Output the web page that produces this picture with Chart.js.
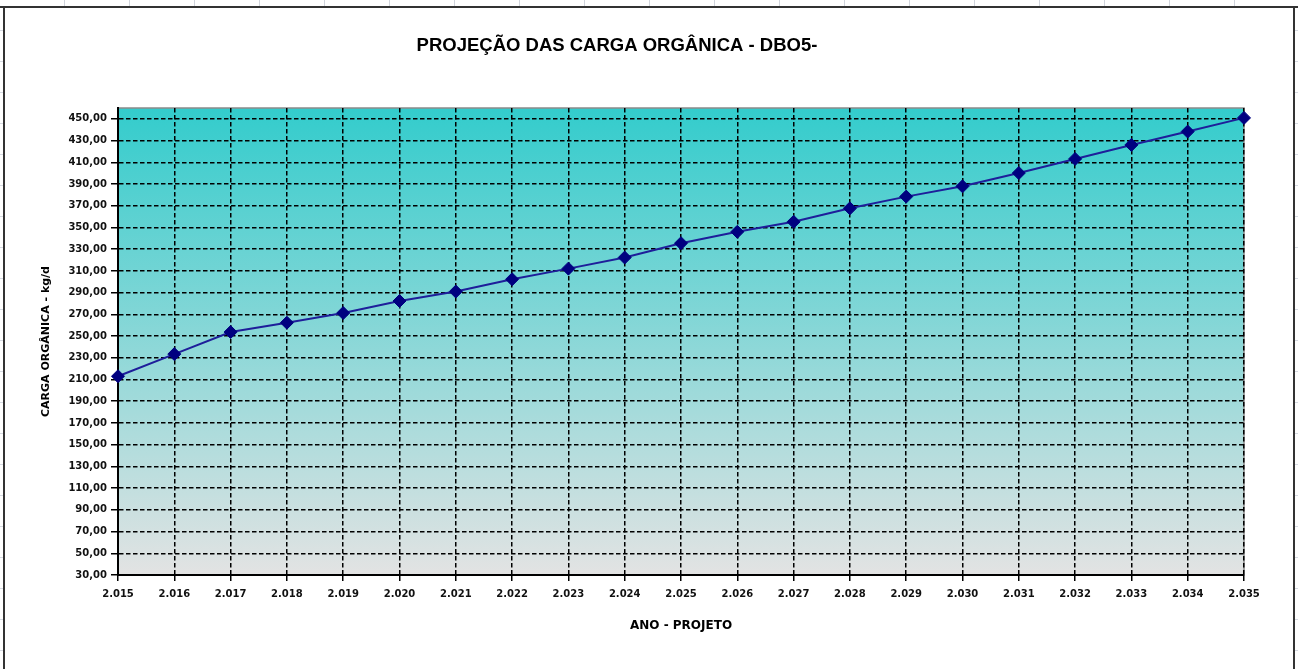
<!DOCTYPE html>
<html lang="pt">
<head>
<meta charset="utf-8">
<title>Projeção das Carga Orgânica - DBO5</title>
<script src="https://cdn.jsdelivr.net/npm/chart.js@4.4.1/dist/chart.umd.min.js"></script>
<style>
  html, body { margin: 0; padding: 0; }
  body {
    width: 1298px; height: 669px; overflow: hidden; position: relative; background: #fff;
    background-image: repeating-linear-gradient(to bottom, transparent 0 30px, #d6dae2 30px 31px);
  }
  #topbar {
    position: absolute; left: 0; top: 0; width: 1298px; height: 6px;
    background: repeating-linear-gradient(to right, #fff 0 64px, #d0d4dc 64px 65px);
    border-bottom: 2px solid #333;
  }
  #frame {
    position: absolute; left: 3px; top: 8px; width: 1292px; height: 670px;
    border-left: 2px solid #333; border-right: 2px solid #333;
    box-sizing: border-box; background: #fff;
  }
  #wrap { position: absolute; left: -10px; top: 0; width: 1304px; height: 669px; }
</style>
</head>
<body>
<div id="topbar"></div>
<div id="frame"></div>
<div id="wrap"><canvas id="cargaChart"></canvas></div>
<script>
// dados
const anos = ['2.015', '2.016', '2.017', '2.018', '2.019', '2.020', '2.021', '2.022', '2.023', '2.024',
              '2.025', '2.026', '2.027', '2.028', '2.029', '2.030', '2.031', '2.032', '2.033', '2.034', '2.035'];
const cargaDBO5 = [213.0, 233.4, 253.7, 262.3, 271.2, 282.3, 291.0, 302.3, 312.1, 322.3,
                   335.5, 346.0, 355.2, 367.6, 378.4, 387.9, 400.1, 413.1, 426.0, 438.3, 450.9];
const yMin = 30;
const yMax = 460;
const yLastTick = 450;
const yStep = 20;

const titleFont = 'Arial, "Liberation Sans", sans-serif';
const axisFont = '"DejaVu Sans", Verdana, sans-serif';

// plot area fill + gray frame (top/right)
const plotBackground = {
    id: 'plotBackground',
    beforeDraw(chart) {
        const { ctx, chartArea: a } = chart;
        const g = ctx.createLinearGradient(0, a.top, 0, a.bottom);
        g.addColorStop(0, '#33CCCC');
        g.addColorStop(1, '#E3E3E3');
        ctx.save();
        ctx.fillStyle = g;
        ctx.fillRect(a.left, a.top, a.right - a.left, a.bottom - a.top);
        ctx.strokeStyle = '#8a8a8a';
        ctx.lineWidth = 1.5;
        ctx.strokeRect(a.left, a.top, a.right - a.left, a.bottom - a.top);
        ctx.restore();
    }
};

const ctx = document.getElementById('cargaChart');
new Chart(ctx, {
    type: 'line',
    data: {
        labels: anos,
        datasets: [{
            label: 'Carga orgânica DBO5',
            data: cargaDBO5,
            borderColor: '#1e1e9a',
            borderWidth: 2,
            backgroundColor: '#000080',
            pointStyle: 'rectRot',
            pointRadius: 6.5,
            pointBorderColor: '#000080',
            pointBackgroundColor: '#000080',
            pointBorderWidth: 1,
            tension: 0,
            fill: false
        }]
    },
    options: {
        responsive: true,
        maintainAspectRatio: false,
        animation: false,
        layout: { padding: { left: 0, right: 50, top: 0, bottom: 24 } },
        plugins: {
            legend: { display: false },
            tooltip: { enabled: false },
            title: {
                display: true,
                text: 'PROJEÇÃO DAS CARGA ORGÂNICA - DBO5-',
                color: '#000',
                font: { size: 18.5, weight: 'bold', family: titleFont },
                padding: { top: 35, bottom: 50.8 }
            }
        },
        scales: {
            x: {
                offset: false,
                afterFit: function (axis) { axis.height = 70; },
                grid: {
                    color: '#000',
                    lineWidth: 1.5,
                    drawTicks: true,
                    tickLength: 6,
                    tickColor: '#000',
                    tickWidth: 1.5
                },
                border: { display: true, color: '#000', width: 2, dash: [4.5, 2.5] },
                ticks: {
                    color: '#111',
                    padding: 7,
                    maxRotation: 0,
                    autoSkip: false,
                    font: { size: 10, weight: 'bold', family: axisFont }
                },
                title: {
                    display: true,
                    text: 'ANO - PROJETO',
                    color: '#000',
                    font: { size: 12, weight: 'bold', family: axisFont },
                    padding: { top: 0, bottom: 11.5 }
                }
            },
            y: {
                min: yMin,
                max: yMax,
                afterFit: function (axis) { axis.width = 128; },
                afterBuildTicks: function (axis) {
                    const ticks = [];
                    for (let v = yMin; v <= yLastTick; v += yStep) ticks.push({ value: v });
                    axis.ticks = ticks;
                },
                grid: {
                    color: '#000',
                    lineWidth: 1.5,
                    drawTicks: true,
                    tickLength: 7,
                    tickColor: '#000',
                    tickWidth: 1.5
                },
                border: { display: true, color: '#000', width: 2, dash: [4.5, 2.5] },
                ticks: {
                    color: '#111',
                    padding: 4,
                    autoSkip: false,
                    font: { size: 10, weight: 'bold', family: axisFont },
                    callback: function (value) {
                        return Number(value).toFixed(2).replace('.', ',');
                    }
                },
                title: {
                    display: true,
                    text: 'CARGA ORGÂNICA - kg/d',
                    color: '#000',
                    font: { size: 11, weight: 'bold', family: axisFont },
                    padding: { top: 50, bottom: 0 }
                }
            }
        }
    },
    plugins: [plotBackground]
});
</script>
</body>
</html>
